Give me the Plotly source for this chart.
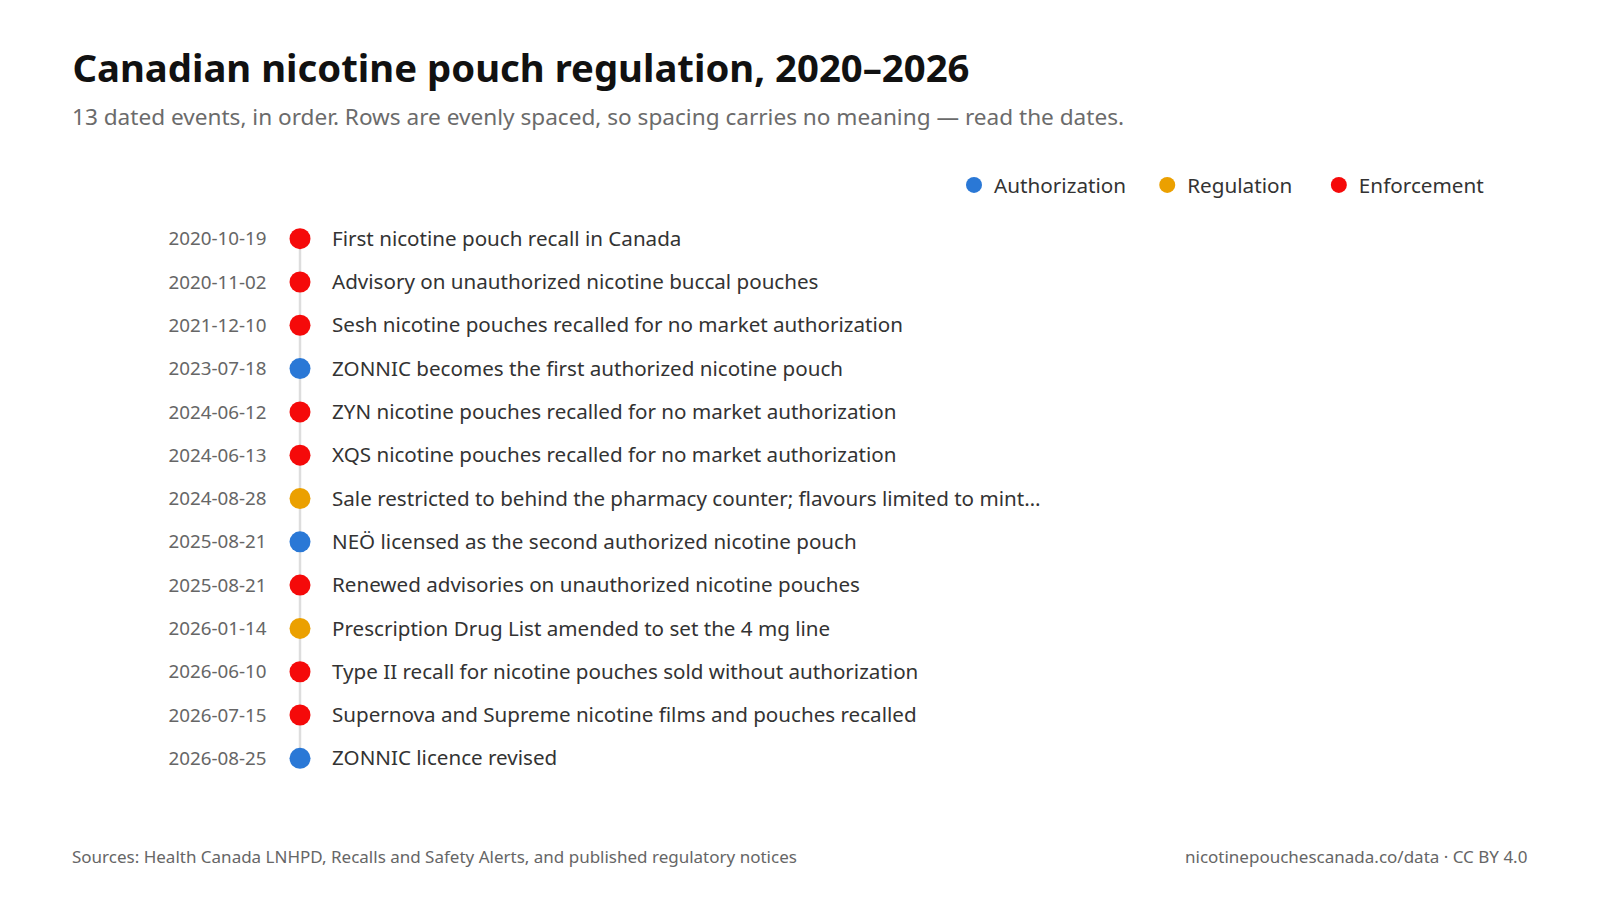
import plotly.graph_objects as go

# Event data, in chronological order
dates = ["2020-10-19", "2020-11-02", "2021-12-10", "2023-07-18", "2024-06-12",
         "2024-06-13", "2024-08-28", "2025-08-21", "2025-08-21", "2026-01-14",
         "2026-06-10", "2026-07-15", "2026-08-25"]
events = [
    "First nicotine pouch recall in Canada",
    "Advisory on unauthorized nicotine buccal pouches",
    "Sesh nicotine pouches recalled for no market authorization",
    "ZONNIC becomes the first authorized nicotine pouch",
    "ZYN nicotine pouches recalled for no market authorization",
    "XQS nicotine pouches recalled for no market authorization",
    "Sale restricted to behind the pharmacy counter; flavours limited to mint…",
    "NEÖ licensed as the second authorized nicotine pouch",
    "Renewed advisories on unauthorized nicotine pouches",
    "Prescription Drug List amended to set the 4 mg line",
    "Type II recall for nicotine pouches sold without authorization",
    "Supernova and Supreme nicotine films and pouches recalled",
    "ZONNIC licence revised",
]
kinds = ["Enforcement", "Enforcement", "Enforcement", "Authorization", "Enforcement",
         "Enforcement", "Regulation", "Authorization", "Enforcement", "Regulation",
         "Enforcement", "Enforcement", "Authorization"]
categories = ["Authorization", "Regulation", "Enforcement"]
legend_names = ["Authorization\u00a0\u00a0\u00a0", "Regulation\u00a0\u00a0\u00a0\u00a0", "Enforcement"]
colors = {"Authorization": "#2a78d6", "Regulation": "#eba000", "Enforcement": "#f50a0a"}

FONT = "Segoe UI, Noto Sans, Open Sans, sans-serif"
W, H = 1600, 900
T, B = 209, 128          # plot area margins (px)
DOT_X = 292
rows = list(range(len(dates)))
n = len(rows)
TEXT_NUDGE = 0.045       # labels sit a touch lower so they centre on the dots


def py(ypx):
    # pixel row (from top) -> paper y
    return (H - B - ypx) / (H - T - B)


fig = go.Figure()

# spine connecting the dots
fig.add_trace(go.Scatter(
    x=[DOT_X] * n, y=rows, mode="lines",
    line=dict(color="#dddddd", width=2.5), hoverinfo="skip", showlegend=False))

for cat, nm in zip(categories, legend_names):
    idx = [i for i, k in enumerate(kinds) if k == cat]
    fig.add_trace(go.Scatter(
        x=[DOT_X] * len(idx), y=idx, mode="markers", name=nm,
        marker=dict(size=21, color=colors[cat]),
        customdata=[[dates[i], events[i]] for i in idx],
        hovertemplate="%{customdata[0]}<br>%{customdata[1]}<extra></extra>"))

# date labels
fig.add_trace(go.Scatter(
    x=[258.5] * n, y=rows, mode="text", text=dates, yaxis="y2",
    textposition="middle left", textfont=dict(size=18.8, color="#666666", family=FONT),
    hoverinfo="skip", showlegend=False))

# event labels
fig.add_trace(go.Scatter(
    x=[324] * n, y=rows, mode="text", text=events, yaxis="y2",
    textposition="middle right", textfont=dict(size=20.6, color="#333333", family=FONT),
    hoverinfo="skip", showlegend=False))

fig.update_layout(
    width=W, height=H,
    paper_bgcolor="white", plot_bgcolor="white",
    margin=dict(l=0, r=0, t=T, b=B),
    font=dict(family=FONT, color="#333333"),
    title=dict(text="<b>Canadian nicotine pouch regulation, 2020–2026</b>",
               x=64.4 / W, xanchor="left", xref="container",
               y=1 - 61 / H, yanchor="middle", yref="container",
               font=dict(size=38.3, color="#111111", family=FONT)),
    xaxis=dict(range=[0, W], visible=False, fixedrange=True),
    yaxis=dict(range=[n - 0.5, -0.5], visible=False, fixedrange=True),
    yaxis2=dict(range=[n - 0.5 - TEXT_NUDGE, -0.5 - TEXT_NUDGE], overlaying="y",
                visible=False, fixedrange=True),
    legend=dict(orientation="h", x=1482 / W, xanchor="right",
                y=py(177), yanchor="middle",
                font=dict(size=20.7, color="#333333", family=FONT),
                bgcolor="rgba(0,0,0,0)"),
    showlegend=True,
    annotations=[
        dict(text="13 dated events, in order. Rows are evenly spaced, so spacing carries no meaning — read the dates.",
             xref="paper", yref="paper", x=62.3 / W, y=py(108),
             xanchor="left", yanchor="middle", showarrow=False,
             font=dict(size=22.6, color="#6b6b6b", family=FONT)),
        dict(text="Sources: Health Canada LNHPD, Recalls and Safety Alerts, and published regulatory notices",
             xref="paper", yref="paper", x=62 / W, y=py(848.5),
             xanchor="left", yanchor="middle", showarrow=False,
             font=dict(size=17, color="#666666", family=FONT)),
        dict(text="nicotinepouchescanada.co/data · CC BY 4.0",
             xref="paper", yref="paper", x=1521 / W, y=py(848.5),
             xanchor="right", yanchor="middle", showarrow=False,
             font=dict(size=17, color="#666666", family=FONT)),
    ],
)

fig.write_html("out.html")
